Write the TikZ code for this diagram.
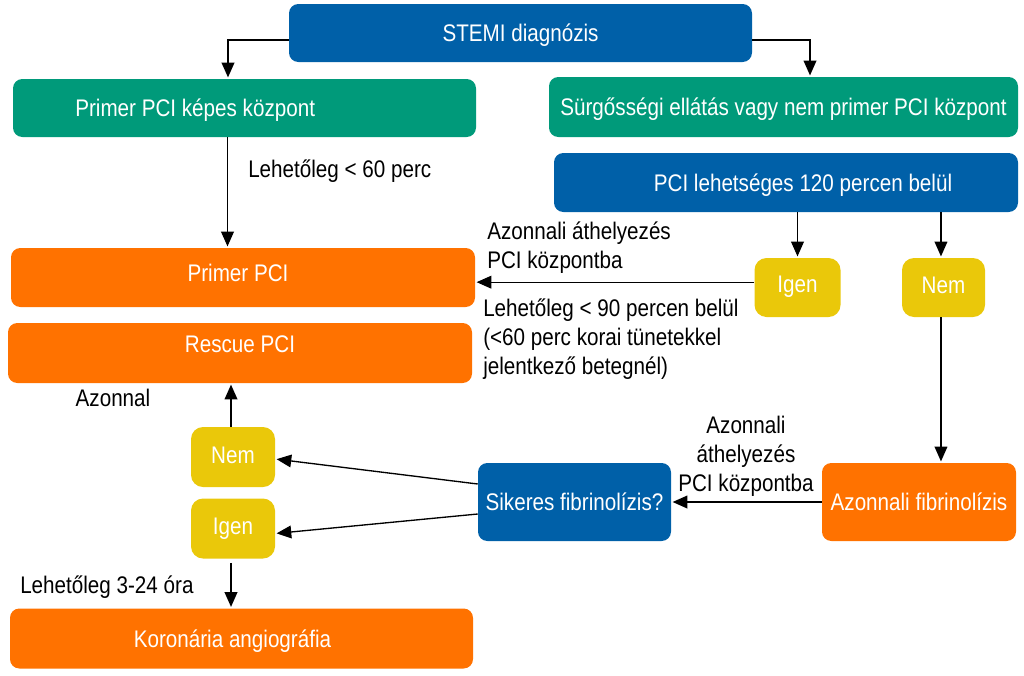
\documentclass[tikz,border=0pt]{standalone}
\usepackage{fontspec}
\setmainfont{Liberation Sans}[FakeStretch=0.86]
\usetikzlibrary{arrows.meta}
\definecolor{cblue}{RGB}{0,96,168}
\definecolor{cgreen}{RGB}{0,154,122}
\definecolor{corange}{RGB}{255,114,0}
\definecolor{cyellow}{RGB}{234,200,10}
\begin{document}
\begin{tikzpicture}[x=0.75pt,y=-0.75pt,
 box/.style={rectangle,rounded corners=7pt,inner sep=0pt,text=white,text height=12.9pt,text depth=0pt,font=\fontsize{18}{21.75}\selectfont},
 ybox/.style={box,fill=cyellow,rounded corners=9pt},
 arr/.style={-{Triangle[length=11pt,width=9.5pt]},line width=1pt,shorten >=1pt},
 lbl/.style={inner sep=0pt,font=\fontsize{18}{21.75}\selectfont,align=left}]
\useasboundingbox (0,0) rectangle (1024,675);

\node[box,fill=cblue,minimum width=347.25pt,minimum height=43.5pt] (stemi) at (520.5,33) {STEMI diagnózis};
\node[box,fill=cgreen,minimum width=347.25pt,minimum height=43.5pt] (pcicap) at (244.5,108) {Primer PCI képes központ\hspace*{74pt}};
\node[box,fill=cgreen,minimum width=351.75pt,minimum height=45pt] (surg) at (783.5,107) {Sürgősségi ellátás vagy nem primer PCI központ};
\node[box,fill=cblue,minimum width=348pt,minimum height=44.25pt] (pcipos) at (786,182.5) {\hspace*{25.5pt}PCI lehetséges 120 percen belül};
\node[box,fill=corange,minimum width=348pt,minimum height=44.25pt] (primer) at (243,277.5) {\raisebox{3.4pt}{Primer PCI}\hspace*{7.5pt}};
\node[box,fill=corange,minimum width=348pt,minimum height=45pt] (rescue) at (240,353) {\raisebox{6.75pt}{Rescue PCI}};
\node[box,fill=corange,minimum width=347.25pt,minimum height=45pt] (koro) at (241.5,638.5) {Koronária angiográfia\hspace*{13.5pt}};
\node[box,fill=cblue,minimum width=144.75pt,minimum height=58.5pt] (sik) at (574.5,502) {Sikeres fibrinolízis?};
\node[box,fill=corange,minimum width=145.5pt,minimum height=58.5pt] (azfib) at (919,502) {Azonnali fibrinolízis};
\node[ybox,minimum width=64.5pt,minimum height=44.25pt] (igenR) at (797.5,287.5) {\raisebox{2.6pt}{Igen}};
\node[ybox,minimum width=62.25pt,minimum height=44.25pt] (nemR) at (943.5,287.5) {\raisebox{2.25pt}{Nem}};
\node[ybox,minimum width=63pt,minimum height=45pt] (nemL) at (233,457) {\raisebox{1.5pt}{Nem}};
\node[ybox,minimum width=63pt,minimum height=45pt] (igenL) at (233,528.5) {\raisebox{1.9pt}{Igen}};

\node[lbl,anchor=west] (l60) at (248,171) {Lehetőleg < 60 perc};
\node[lbl,anchor=west] (lath) at (487,248) {Azonnali áthelyezés\\PCI központba};
\node[lbl,anchor=west] (l90) at (483,339) {Lehetőleg < 90 percen belül\\(<60 perc korai tünetekkel\\jelentkező betegnél)};
\node[lbl,align=center] (lath2) at (746,456) {Azonnali\\áthelyezés\\PCI központba};
\node[lbl] (lazon) at (113,398) {Azonnal};
\node[lbl,anchor=west] (l324) at (20,587) {Lehetőleg 3-24 óra};

\draw[arr] ([yshift=-5.25pt]stemi.west) -| ([xshift=-12.375pt]pcicap.north);
\draw[arr] ([yshift=-5.25pt]stemi.east) -| ([xshift=19.875pt]surg.north);
\draw[arr] ([xshift=-12.75pt]pcicap.south) -- ([xshift=-12.75pt]pcicap.south |- primer.north);
\draw[arr] (igenR.north |- pcipos.south) -- (igenR.north);
\draw[arr] ([xshift=-1.9pt]nemR.north |- pcipos.south) -- ([xshift=-1.9pt]nemR.north);
\draw[arr] ([yshift=4pt]igenR.west) -- ([yshift=4pt]igenR.west -| primer.east);
\draw[arr] ([xshift=-1.9pt]nemR.south) -- ([xshift=-1.9pt]nemR.south |- azfib.north);
\draw[arr] (azfib.west) -- (sik.east);
\draw[arr] ([yshift=13.5pt]sik.west) -- ([yshift=-1.5pt]nemL.east);
\draw[arr] ([yshift=-9pt]sik.west) -- ([yshift=-3.75pt]igenL.east);
\draw[arr] ([xshift=-1.5pt]nemL.north) -- ([xshift=-1.5pt]nemL.north |- rescue.south);
\draw[arr] ([xshift=-1.5pt,yshift=-3pt]igenL.south) -- ([xshift=-1.5pt]igenL.south |- koro.north);
\end{tikzpicture}
\end{document}
